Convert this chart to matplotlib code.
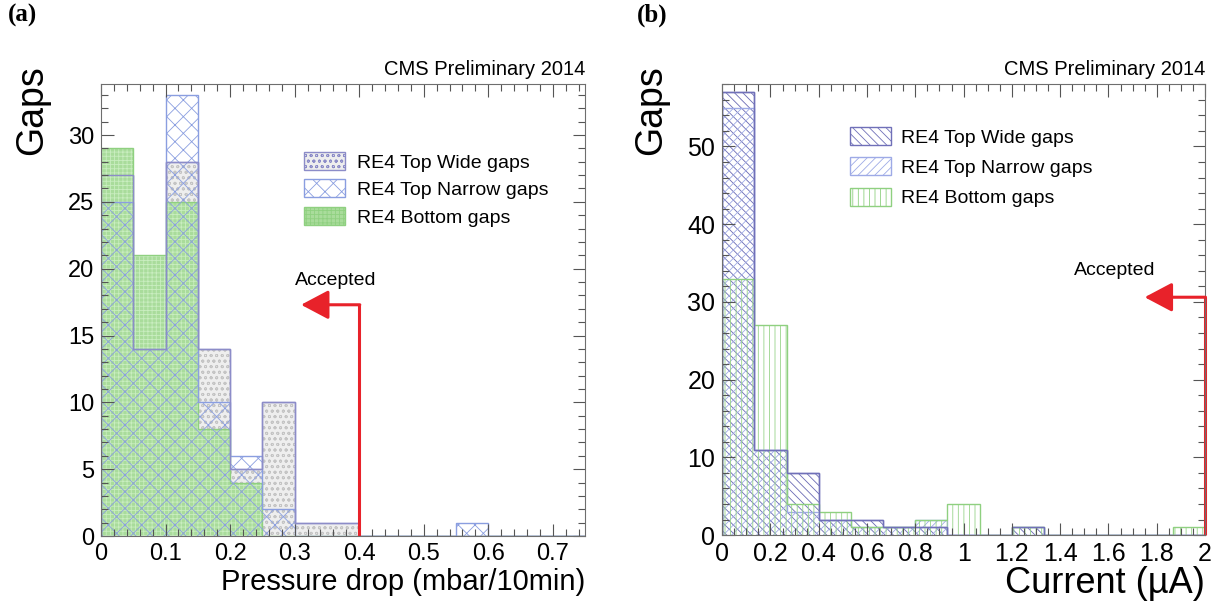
import numpy as np
import matplotlib
matplotlib.use("Agg")
import matplotlib.pyplot as plt
from matplotlib.patches import Patch
from matplotlib.ticker import MultipleLocator

# ---------- DATA ----------
# (a) pressure drop, bins of 0.05 mbar/10min from 0 to 0.75
pressure_edges = np.linspace(0, 0.75, 16)
pressure_wide = [27, 14, 28, 14, 5, 10, 1, 1, 0, 0, 0, 0, 0, 0, 0]
pressure_narrow = [25, 14, 33, 10, 6, 2, 0, 0, 0, 0, 0, 1, 0, 0, 0]
pressure_bottom = [29, 21, 25, 8, 4, 0, 0, 0, 0, 0, 0, 0, 0, 0, 0]

# (b) dark current, 15 bins from 0 to 2 uA
current_edges = np.linspace(0, 2, 16)
current_wide = [57, 11, 8, 2, 2, 1, 1, 0, 0, 1, 0, 0, 0, 0, 0]
current_narrow = [55, 11, 3, 2, 1, 1, 2, 0, 0, 0, 0, 0, 0, 0, 0]
current_bottom = [33, 27, 4, 3, 1, 1, 2, 4, 0, 1, 0, 0, 0, 0, 1]

labels = ["RE4 Top Wide gaps", "RE4 Top Narrow gaps", "RE4 Bottom gaps"]

# ---------- STYLE ----------
plt.rcParams["font.family"] = ["Liberation Sans", "DejaVu Sans"]
plt.rcParams["hatch.linewidth"] = 0.6

frame_col = "#6e6e6e"


def root_axes(ax, xmaj, xmin, ymaj, ymin, fs):
    ax.xaxis.set_major_locator(MultipleLocator(xmaj))
    ax.xaxis.set_minor_locator(MultipleLocator(xmin))
    ax.yaxis.set_major_locator(MultipleLocator(ymaj))
    ax.yaxis.set_minor_locator(MultipleLocator(ymin))
    ax.tick_params(which="both", direction="in", top=True, right=True,
                   color="#555555", width=0.8, labelsize=fs, pad=5)
    ax.tick_params(which="major", length=9)
    ax.tick_params(which="minor", length=5)
    for s in ax.spines.values():
        s.set_color(frame_col)
        s.set_linewidth(0.8)


def hist(ax, edges, vals, face, hatch, hcol, line):
    w = np.diff(edges)
    ax.bar(edges[:-1], vals, w, align="edge", facecolor=face, edgecolor=hcol,
           hatch=hatch, linewidth=0)
    ax.stairs(vals, edges, color=line, linewidth=1.0)


fig = plt.figure(figsize=(12.24, 6.06), dpi=100)
ax1 = fig.add_axes([0.0825, 0.1155, 0.3955, 0.7455])
ax2 = fig.add_axes([0.590, 0.117, 0.3945, 0.744])

# ---------- (a) ----------
wide_a = dict(face="#eeeeee", hatch="ooo", hcol="#c4c4c4", line="#8c8cc8")
narrow_a = dict(face="none", hatch="xx", hcol="#8a9ee0", line="#8a9ee0")
bottom_a = dict(face="#a9dc9b", hatch="++++", hcol="#c9edc0", line="#8fd080")

hist(ax1, pressure_edges, pressure_wide, **wide_a)
hist(ax1, pressure_edges, pressure_bottom, **bottom_a)
hist(ax1, pressure_edges, pressure_narrow, **narrow_a)
ax1.stairs(pressure_wide, pressure_edges, color=wide_a["line"], linewidth=1.0)

ax1.set_xlim(0, 0.75)
ax1.set_ylim(0, 33.8)
root_axes(ax1, 0.1, 0.02, 5, 1, 17)
ax1.set_xticks(np.arange(0, 0.71, 0.1))
ax1.set_xticklabels(["0", "0.1", "0.2", "0.3", "0.4", "0.5", "0.6", "0.7"])
ax1.set_xlabel("Pressure drop (mbar/10min)", fontsize=21, loc="right", labelpad=2)

handles_a = [Patch(facecolor=d["face"], edgecolor=d["hcol"], hatch=d["hatch"])
             for d in (wide_a, narrow_a, bottom_a)]
for h, d in zip(handles_a, (wide_a, narrow_a, bottom_a)):
    h.set_edgecolor(d["line"])
leg = ax1.legend(handles_a, labels, loc="upper left", bbox_to_anchor=(0.42, 0.85),
                 frameon=False, fontsize=14, handlelength=2.1, handleheight=1.05,
                 labelspacing=0.4, handletextpad=0.6, borderpad=0, borderaxespad=0)

ax1.plot([0.4, 0.4], [0, 17.3], color="#e8222a", lw=2.2, solid_capstyle="butt")
ax1.annotate("", xy=(0.31, 17.3), xytext=(0.401, 17.3),
             arrowprops=dict(arrowstyle="-|>,head_length=0.85,head_width=0.45",
                             color="#e8222a", lw=2.2, mutation_scale=20,
                             shrinkA=0, shrinkB=0))
ax1.text(0.364, 19.1, "Accepted", fontsize=14, ha="center", va="center")

ax1.text(1.0, 1.012, "CMS Preliminary 2014", transform=ax1.transAxes,
         ha="right", va="bottom", fontsize=14.5)

# ---------- (b) ----------
wide_b = dict(face="none", hatch="\\\\\\\\", hcol="#6a6ab4", line="#7070b8")
narrow_b = dict(face="none", hatch="////", hcol="#9eaae6", line="#9eaae6")
bottom_b = dict(face="none", hatch="|||", hcol="#98d48a", line="#8fd080")

hist(ax2, current_edges, current_wide, **wide_b)
hist(ax2, current_edges, current_narrow, **narrow_b)
hist(ax2, current_edges, current_bottom, **bottom_b)
ax2.stairs(current_wide, current_edges, color=wide_b["line"], linewidth=1.0)

ax2.set_xlim(0, 2)
ax2.set_ylim(0, 58)
root_axes(ax2, 0.2, 0.05, 10, 2, 18)
ax2.set_xticks(np.arange(0, 2.01, 0.2))
ax2.set_xticklabels(["0", "0.2", "0.4", "0.6", "0.8", "1", "1.2", "1.4", "1.6", "1.8", "2"])
ax2.set_xlabel("Current (\u00b5A)", fontsize=26, loc="right", labelpad=0)

handles_b = [Patch(facecolor="none", edgecolor=d["line"], hatch=d["hatch"])
             for d in (wide_b, narrow_b, bottom_b)]
ax2.legend(handles_b, labels, loc="upper left", bbox_to_anchor=(0.265, 0.905),
           frameon=False, fontsize=14, handlelength=2.1, handleheight=1.05,
           labelspacing=0.55, handletextpad=0.5, borderpad=0, borderaxespad=0)

ax2.plot([2.0, 2.0], [0, 30.6], color="#e8222a", lw=2.2, solid_capstyle="butt",
         clip_on=False)
ax2.annotate("", xy=(1.75, 30.6), xytext=(2.002, 30.6),
             arrowprops=dict(arrowstyle="-|>,head_length=0.85,head_width=0.45",
                             color="#e8222a", lw=2.2, mutation_scale=20,
                             shrinkA=0, shrinkB=0))
ax2.text(1.625, 34.0, "Accepted", fontsize=14, ha="center", va="center")

ax2.text(1.0, 1.012, "CMS Preliminary 2014", transform=ax2.transAxes,
         ha="right", va="bottom", fontsize=14.5)

# ---------- labels ----------
fig.text(32 / 1224, 1 - 65 / 606, "Gaps", rotation=90, ha="center", va="top", fontsize=27)
fig.text(651 / 1224, 1 - 65 / 606, "Gaps", rotation=90, ha="center", va="top", fontsize=27)
fig.text(8 / 1224, 1 - 4 / 606, "(a)", ha="left", va="top", fontsize=18,
         weight="bold", family="Liberation Serif")
fig.text(637 / 1224, 1 - 4 / 606, "(b)", ha="left", va="top", fontsize=18,
         weight="bold", family="Liberation Serif")

fig.savefig("out.png", dpi=100)
